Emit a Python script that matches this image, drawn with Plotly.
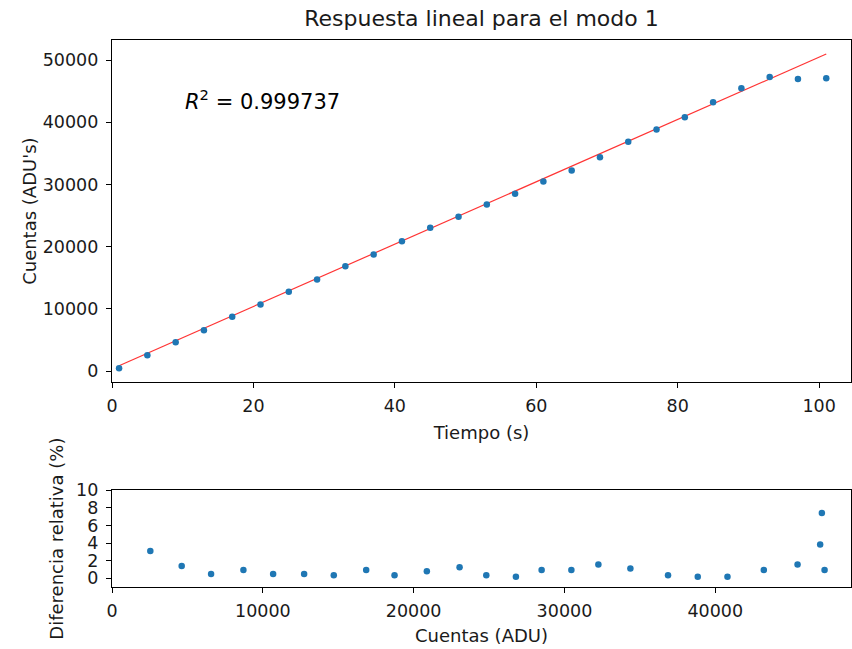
import numpy as np
import plotly.graph_objects as go

# ---- data ----
tiempo = [1, 5, 9, 13, 17, 21, 25, 29, 33, 37, 41, 45, 49, 53, 57, 61, 65, 69,
          73, 77, 81, 85, 89, 93, 97, 101]
cuentas = [434, 2541, 4621, 6570, 8713, 10683, 12740, 14705, 16855, 18733,
           20876, 23046, 24818, 26782, 28487, 30458, 32250, 34373, 36868,
           38839, 40810, 43219, 45455, 47247, 46955, 47067]
dif_cuentas = cuentas[1:]
dif_relativa = [3.1, 1.39, 0.48, 0.94, 0.48, 0.48, 0.33, 0.94, 0.33, 0.79,
                1.24, 0.33, 0.18, 0.94, 0.94, 1.55, 1.1, 0.33, 0.18, 0.18,
                0.94, 1.55, 0.94, 3.84, 7.41]
pendiente = 501.1
ordenada = 356.0
r2_texto = "0.999737"

t_fit = np.array([tiempo[0], tiempo[-1]], dtype=float)
y_fit = pendiente * t_fit + ordenada

FONT = "DejaVu Sans"
BLUE = "#1f77b4"
TXT = "#1a1a1a"

fig = go.Figure()
fig.add_trace(go.Scatter(x=t_fit, y=y_fit, mode="lines",
                         line=dict(color="rgba(255,0,0,0.8)", width=1.2),
                         xaxis="x", yaxis="y", showlegend=False))
fig.add_trace(go.Scatter(x=tiempo, y=cuentas, mode="markers",
                         marker=dict(color=BLUE, size=6.5),
                         xaxis="x", yaxis="y", showlegend=False))
fig.add_trace(go.Scatter(x=dif_cuentas, y=dif_relativa, mode="markers",
                         marker=dict(color=BLUE, size=6.5),
                         xaxis="x2", yaxis="y2", showlegend=False))

axis_common = dict(showline=True, linecolor="black", linewidth=1.2, mirror=True,
                   ticks="outside", ticklen=5, tickwidth=1.2, tickcolor="black",
                   showgrid=False, zeroline=False, tickformat="d",
                   tickfont=dict(family=FONT, size=17.5, color=TXT))

fig.update_layout(
    width=852, height=649,
    margin=dict(l=112, r=1, t=40, b=62),
    paper_bgcolor="white", plot_bgcolor="white",
    font=dict(family=FONT, size=18, color=TXT),
    title=dict(text="Respuesta lineal para el modo 1", x=0.5, xref="paper",
               y=1 - 18 / 649, yref="container", yanchor="middle",
               font=dict(family=FONT, size=22, color=TXT)),
    xaxis=dict(domain=[0, 1], anchor="y", range=[0, 104.5], tick0=0, dtick=20,
               ticklabelstandoff=3,
               title=dict(text="Tiempo (s)", standoff=10,
                          font=dict(family=FONT, size=18, color=TXT)),
               **axis_common),
    yaxis=dict(domain=[0.3742, 1], anchor="x", range=[-1817, 53215],
               tick0=0, dtick=10000, ticklabelstandoff=4,
               title=dict(text="Cuentas (ADU's)", standoff=1,
                          font=dict(family=FONT, size=18, color=TXT)),
               **axis_common),
    xaxis2=dict(domain=[0, 1], anchor="y2", range=[0, 49000], tick0=0,
                dtick=10000, ticklabelstandoff=3,
                title=dict(text="Cuentas (ADU)", standoff=9,
                           font=dict(family=FONT, size=18, color=TXT)),
                **axis_common),
    yaxis2=dict(domain=[0, 0.1768], anchor="x2", range=[-1, 10], tick0=0,
                dtick=2, ticklabelstandoff=4,
                title=dict(text="Diferencia relativa (%)", standoff=7,
                           font=dict(family=FONT, size=18, color=TXT)),
                **axis_common),
    annotations=[dict(text="<i>R</i><sup>2</sup> = " + r2_texto,
                      x=10.1, y=43600, xref="x", yref="y",
                      xanchor="left", yanchor="middle", showarrow=False,
                      font=dict(family=FONT, size=21, color="black"))],
)

fig.write_html("out.html")
